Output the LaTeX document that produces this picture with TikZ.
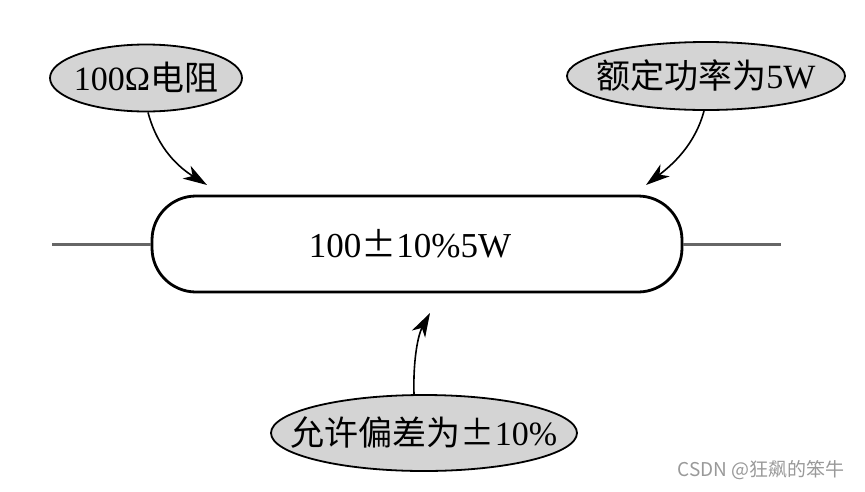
\documentclass[tikz,border=0pt]{standalone}
\usepackage{fontspec}
\setmainfont{Liberation Serif}
\newfontfamily\cjk{Noto Sans CJK SC}
\usetikzlibrary{arrows.meta,shapes.geometric}
\newcommand{\pmsign}{{\cjk ±}}
\begin{document}
\begin{tikzpicture}[x=1pt,y=-1pt,
  callout/.style={ellipse,draw=black,line width=1.8pt,fill=black!17,inner sep=0pt},
  callouttext/.style={font=\fontsize{34}{38}\selectfont,inner sep=0pt},
  pointer/.style={line width=1.6pt,-{Stealth[length=24pt,width=15pt,inset=7pt]}},
  lead/.style={line width=3pt,draw=black!60}]
\useasboundingbox (0,0) rectangle (865,491);
\node[draw=black,line width=2.8pt,rounded corners=44pt,minimum width=530pt,minimum height=96pt] (body) at (417,244) {};
\node[font=\fontsize{35}{38}\selectfont,inner sep=0pt] (bodyt) at (410,244) {100\pmsign10\%5W};
\coordinate (l1) at (52,244);
\coordinate (r1) at (781,244);
\draw[lead] (l1) -- (body.west);
\draw[lead] (body.east) -- (r1);
\node[callout,minimum width=192pt,minimum height=67pt] (e1) at (146,78) {};
\node[callouttext] (e1t) at (e1.center) {100Ω{\cjk 电阻}};
\node[callout,minimum width=278pt,minimum height=68pt] (e2) at (706,76) {};
\node[callouttext] (e2t) at (e2.center) {{\cjk 额定功率为}5W};
\node[callout,minimum width=306pt,minimum height=76pt] (e3) at (424,433) {};
\node[callouttext] (e3t) at (e3.center) {{\cjk 允许偏差为}\pmsign10\%};
\coordinate (t1) at (207,185);
\coordinate (t2) at (646,185);
\coordinate (t3) at (430,313);
\draw[pointer] ([xshift=2pt]e1.south) .. controls (158,150) and (180,168) .. (t1);
\draw[pointer] ([xshift=-2pt]e2.south) .. controls (695,145) and (672,165) .. (t2);
\draw[pointer] ([xshift=-10pt]e3.north) .. controls (413,360) and (418,335) .. (t3);
\node[text=black!40,font=\cjk\fontsize{19}{21}\selectfont,anchor=east] (wm) at (848,470) {CSDN @狂飙的笨牛};
\end{tikzpicture}
\end{document}
